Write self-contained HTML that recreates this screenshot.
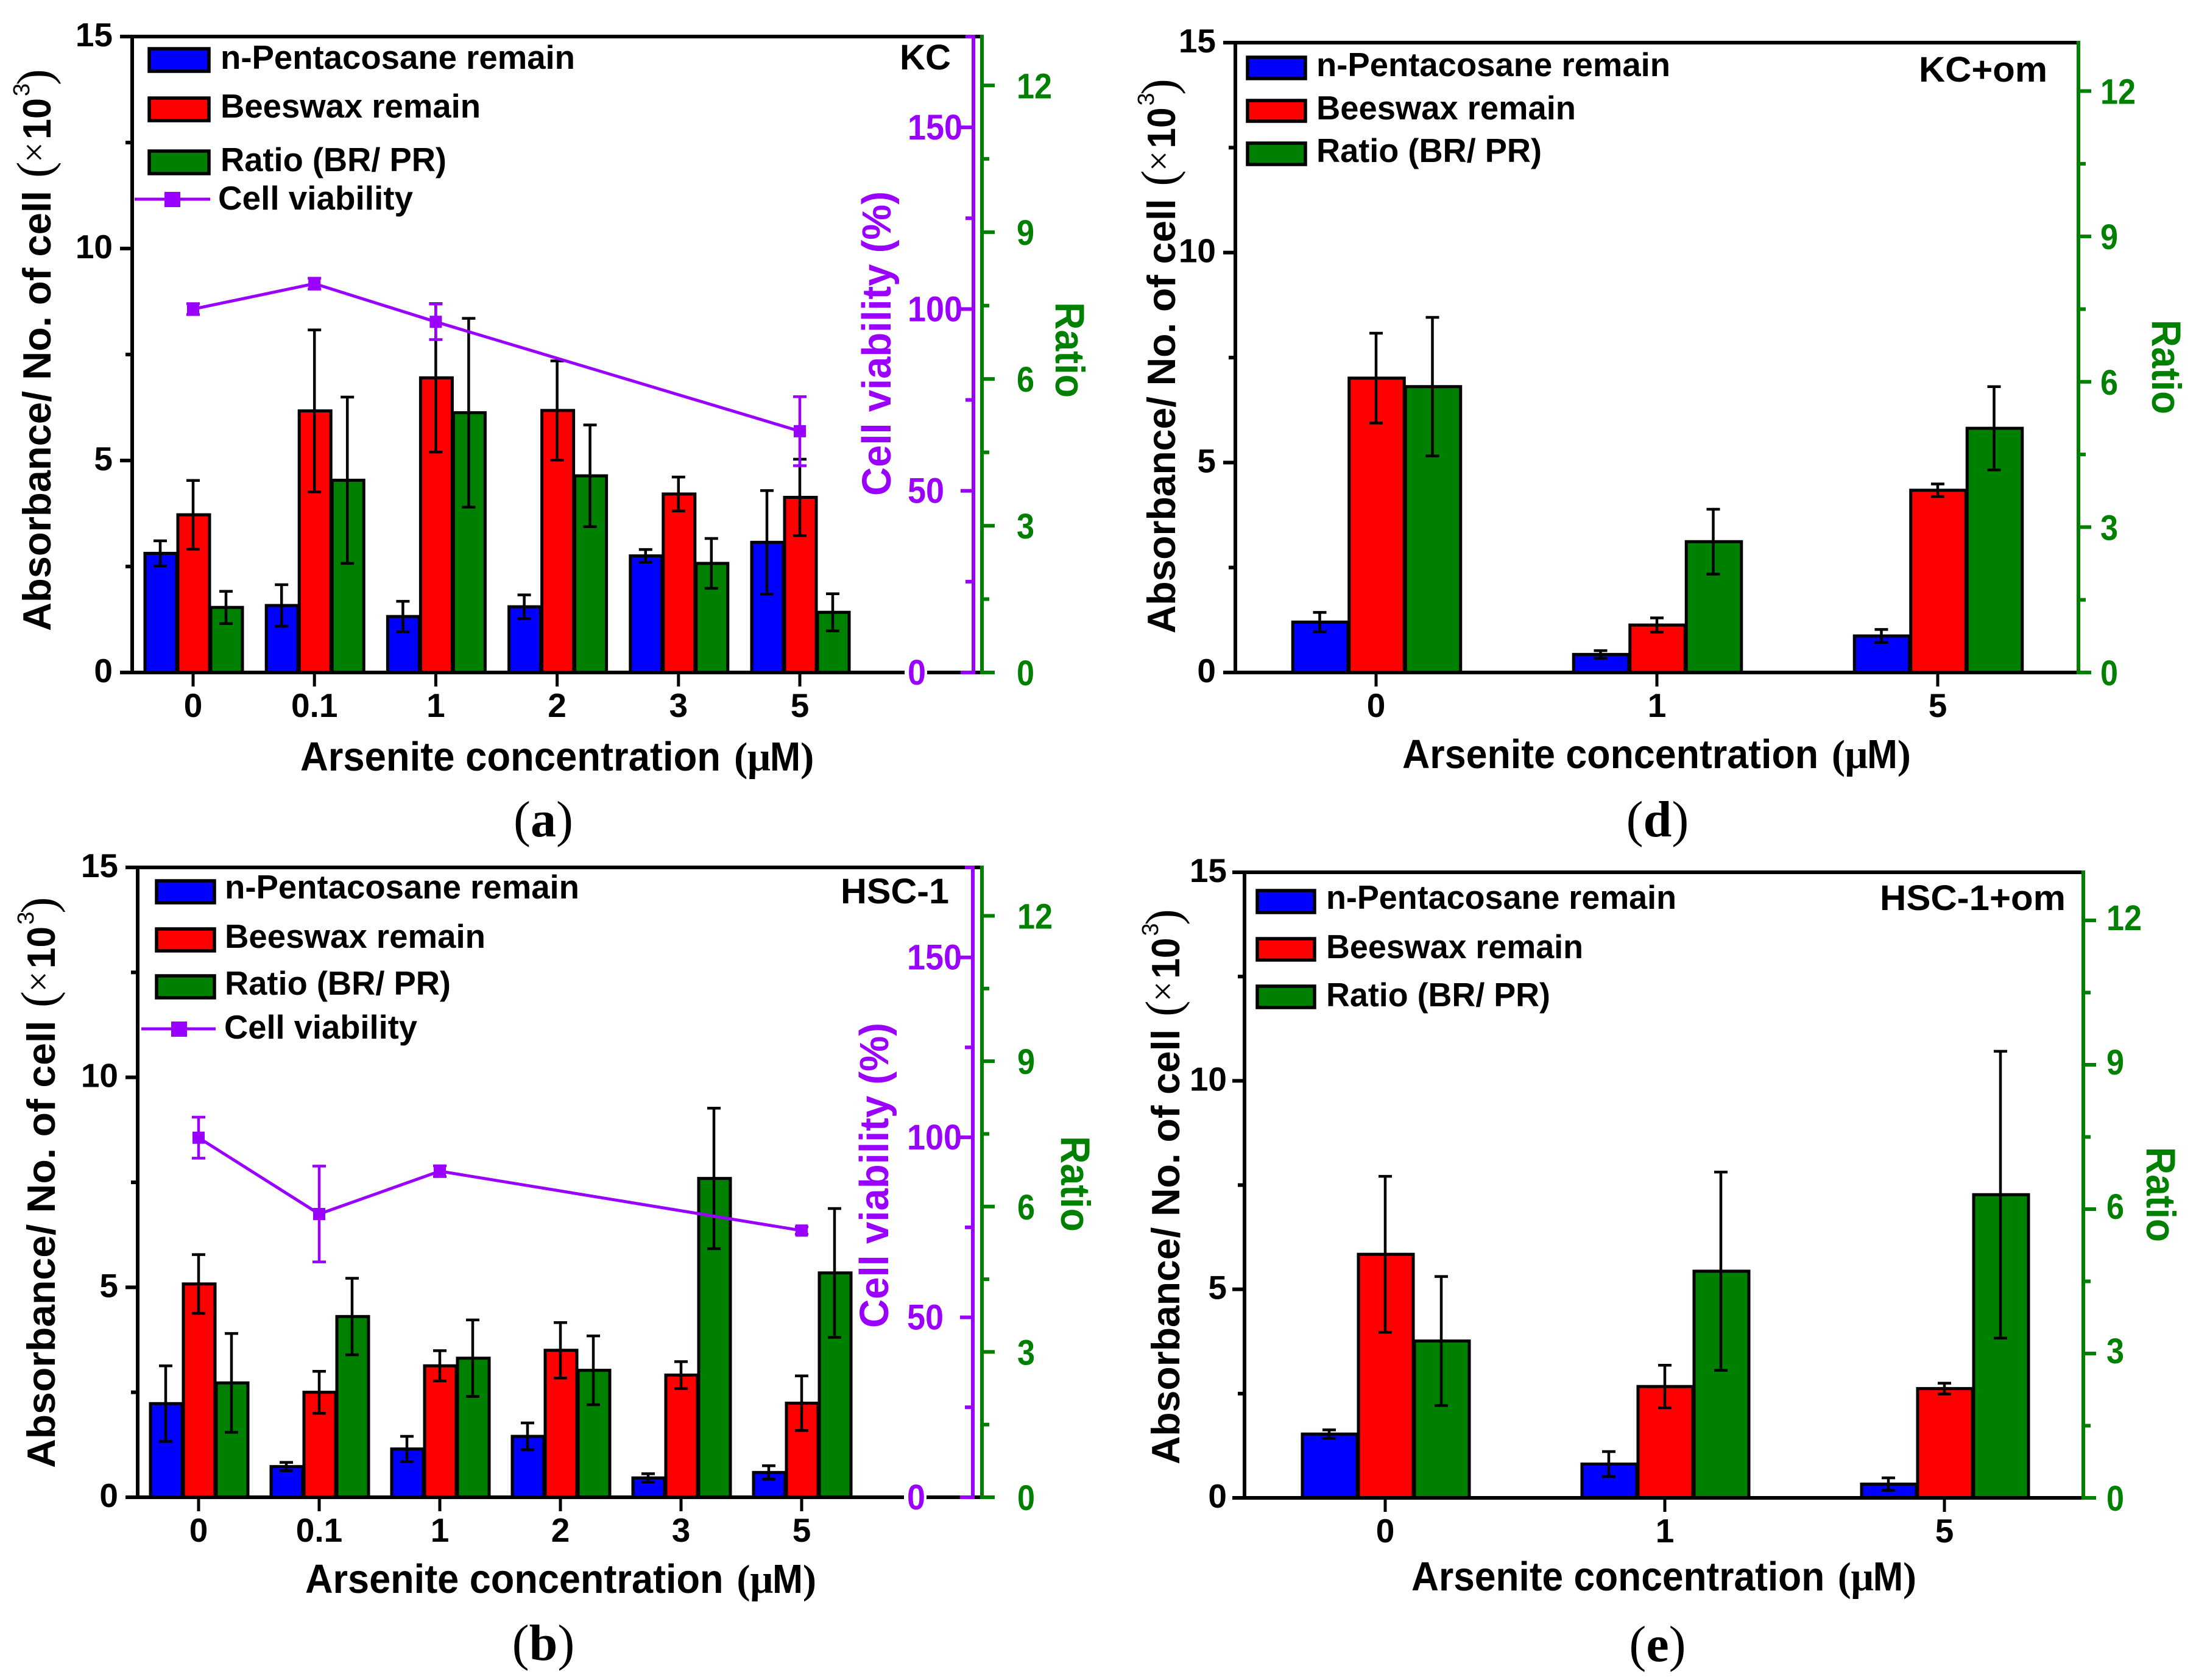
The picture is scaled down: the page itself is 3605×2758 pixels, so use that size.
<!DOCTYPE html>
<html lang="en">
<head>
<meta charset="utf-8">
<title>Absorbance and cell viability charts</title>
<style>
html,body{margin:0;padding:0;background:#fff}
svg{display:block}
text{font-family:"Liberation Sans",Arial,sans-serif;font-weight:bold;fill:#000}
.leg{font-size:55px}
.tag{font-size:58px;font-weight:bold}
.xt{font-size:67px}
.yt{font-size:65px}
.vt{font-size:67px}
.rt{font-size:68px}
.ser{font-family:"Liberation Serif",serif;font-weight:normal}
.serb{font-family:"Liberation Serif",serif;font-weight:bold;font-size:67px}
.cap{font-family:"Liberation Serif",serif;font-size:84px;font-weight:normal}
.cap tspan.b{font-weight:bold}
.pu{fill:#9900ff}
.gr{fill:#008000}
.sw{stroke:#000;stroke-width:5.5}
</style>
</head>
<body>
<svg id="fig" xmlns="http://www.w3.org/2000/svg" width="3605" height="2758" viewBox="0 0 3605 2758">
<rect width="3605" height="2758" fill="#fff"/>

<!-- Panel a static text -->
<g>
  <g>
    <rect class="sw" x="245" y="80" width="98" height="37" fill="#0000ff"/>
    <text class="leg" x="362" y="113" textLength="582" lengthAdjust="spacingAndGlyphs">n-Pentacosane remain</text>
    <rect class="sw" x="245" y="161" width="98" height="37" fill="#ff0000"/>
    <text class="leg" x="362" y="193" textLength="427" lengthAdjust="spacingAndGlyphs">Beeswax remain</text>
    <rect class="sw" x="245" y="248" width="98" height="37" fill="#008000"/>
    <text class="leg" x="362" y="281" textLength="371" lengthAdjust="spacingAndGlyphs">Ratio (BR/ PR)</text>
    <line x1="221" x2="345" y1="327" y2="327" stroke="#9900ff" stroke-width="5"/>
    <rect x="270" y="315" width="26" height="25" fill="#9900ff"/>
    <text class="leg" x="358" y="344" textLength="320" lengthAdjust="spacingAndGlyphs">Cell viability</text>
  </g>
  <text class="tag" x="1477" y="114" textLength="84" lengthAdjust="spacingAndGlyphs">KC</text>
  <g transform="translate(493,1265)">
    <text class="xt" x="0" y="0" textLength="690" lengthAdjust="spacingAndGlyphs">Arsenite concentration</text>
    <text class="serb" x="712" y="0">(</text>
    <text class="serb" x="734" y="0">μ</text>
    <text class="xt" x="771" y="0" textLength="50" lengthAdjust="spacingAndGlyphs">M</text>
    <text class="serb" x="821" y="0">)</text>
  </g>
  <g transform="translate(83,1036) rotate(-90)">
    <text class="yt" x="0" y="0" textLength="723" lengthAdjust="spacingAndGlyphs">Absorbance/ No. of cell</text>
    <text class="yt ser" x="744" y="0" style="font-size:80px">(</text>
    <text class="yt ser" x="769" y="-7" style="font-size:60px">×</text>
    <text class="yt" x="807" y="0" textLength="68" lengthAdjust="spacingAndGlyphs">10</text>
    <text x="878" y="-35" style="font-size:38px;font-weight:normal">3</text>
    <text class="yt ser" x="896" y="0" style="font-size:80px">)</text>
  </g>
  <text class="vt pu" transform="translate(1462,814) rotate(-90)" textLength="500" lengthAdjust="spacingAndGlyphs">Cell viability (%)</text>
  <text class="rt gr" transform="translate(1733,496) rotate(90)" textLength="157" lengthAdjust="spacingAndGlyphs">Ratio</text>
  <text class="cap" x="892" y="1373" text-anchor="middle">(<tspan class="b">a</tspan>)</text>
</g>

<!-- Panel d static text -->
<g>
  <g>
    <rect class="sw" x="2048" y="94" width="95" height="35" fill="#0000ff"/>
    <text class="leg" x="2161" y="125" textLength="581" lengthAdjust="spacingAndGlyphs">n-Pentacosane remain</text>
    <rect class="sw" x="2048" y="165" width="95" height="34" fill="#ff0000"/>
    <text class="leg" x="2161" y="196" textLength="426" lengthAdjust="spacingAndGlyphs">Beeswax remain</text>
    <rect class="sw" x="2048" y="235" width="95" height="35" fill="#008000"/>
    <text class="leg" x="2161" y="266" textLength="370" lengthAdjust="spacingAndGlyphs">Ratio (BR/ PR)</text>
  </g>
  <text class="tag" x="3150" y="134" textLength="211" lengthAdjust="spacingAndGlyphs">KC+om</text>
  <g transform="translate(2302,1261) scale(0.99,1)">
    <text class="xt" x="0" y="0" textLength="690" lengthAdjust="spacingAndGlyphs">Arsenite concentration</text>
    <text class="serb" x="712" y="0">(</text>
    <text class="serb" x="734" y="0">μ</text>
    <text class="xt" x="771" y="0" textLength="50" lengthAdjust="spacingAndGlyphs">M</text>
    <text class="serb" x="821" y="0">)</text>
  </g>
  <g transform="translate(1929,1040) rotate(-90) scale(0.987,1)">
    <text class="yt" x="0" y="0" textLength="723" lengthAdjust="spacingAndGlyphs">Absorbance/ No. of cell</text>
    <text class="yt ser" x="744" y="0" style="font-size:80px">(</text>
    <text class="yt ser" x="769" y="-7" style="font-size:60px">×</text>
    <text class="yt" x="807" y="0" textLength="68" lengthAdjust="spacingAndGlyphs">10</text>
    <text x="878" y="-35" style="font-size:38px;font-weight:normal">3</text>
    <text class="yt ser" x="896" y="0" style="font-size:80px">)</text>
  </g>
  <text class="rt gr" transform="translate(3533,525) rotate(90)" textLength="155" lengthAdjust="spacingAndGlyphs">Ratio</text>
  <text class="cap" x="2721" y="1373" text-anchor="middle">(<tspan class="b">d</tspan>)</text>
</g>

<!-- Panel b static text -->
<g>
  <g>
    <rect class="sw" x="257" y="1446" width="95" height="36" fill="#0000ff"/>
    <text class="leg" x="369" y="1475" textLength="582" lengthAdjust="spacingAndGlyphs">n-Pentacosane remain</text>
    <rect class="sw" x="257" y="1525" width="95" height="36" fill="#ff0000"/>
    <text class="leg" x="369" y="1556" textLength="428" lengthAdjust="spacingAndGlyphs">Beeswax remain</text>
    <rect class="sw" x="257" y="1602" width="95" height="36" fill="#008000"/>
    <text class="leg" x="369" y="1633" textLength="371" lengthAdjust="spacingAndGlyphs">Ratio (BR/ PR)</text>
    <line x1="232" x2="354" y1="1689" y2="1689" stroke="#9900ff" stroke-width="5"/>
    <rect x="281" y="1677" width="26" height="25" fill="#9900ff"/>
    <text class="leg" x="368" y="1705" textLength="317" lengthAdjust="spacingAndGlyphs">Cell viability</text>
  </g>
  <text class="tag" x="1380" y="1483" textLength="178" lengthAdjust="spacingAndGlyphs">HSC-1</text>
  <g transform="translate(501,2615) scale(0.995,1)">
    <text class="xt" x="0" y="0" textLength="690" lengthAdjust="spacingAndGlyphs">Arsenite concentration</text>
    <text class="serb" x="712" y="0">(</text>
    <text class="serb" x="734" y="0">μ</text>
    <text class="xt" x="771" y="0" textLength="50" lengthAdjust="spacingAndGlyphs">M</text>
    <text class="serb" x="821" y="0">)</text>
  </g>
  <g transform="translate(90,2410) rotate(-90) scale(1.016,1)">
    <text class="yt" x="0" y="0" textLength="723" lengthAdjust="spacingAndGlyphs">Absorbance/ No. of cell</text>
    <text class="yt ser" x="744" y="0" style="font-size:80px">(</text>
    <text class="yt ser" x="769" y="-7" style="font-size:60px">×</text>
    <text class="yt" x="807" y="0" textLength="68" lengthAdjust="spacingAndGlyphs">10</text>
    <text x="878" y="-35" style="font-size:38px;font-weight:normal">3</text>
    <text class="yt ser" x="896" y="0" style="font-size:80px">)</text>
  </g>
  <text class="vt pu" transform="translate(1458,2180) rotate(-90)" textLength="501" lengthAdjust="spacingAndGlyphs">Cell viability (%)</text>
  <text class="rt gr" transform="translate(1742,1865) rotate(90)" textLength="157" lengthAdjust="spacingAndGlyphs">Ratio</text>
  <text class="cap" x="892" y="2725" text-anchor="middle">(<tspan class="b">b</tspan>)</text>
</g>

<!-- Panel e static text -->
<g>
  <g>
    <rect class="sw" x="2064" y="1462" width="94" height="36" fill="#0000ff"/>
    <text class="leg" x="2177" y="1492" textLength="575" lengthAdjust="spacingAndGlyphs">n-Pentacosane remain</text>
    <rect class="sw" x="2064" y="1541" width="94" height="35" fill="#ff0000"/>
    <text class="leg" x="2177" y="1573" textLength="422" lengthAdjust="spacingAndGlyphs">Beeswax remain</text>
    <rect class="sw" x="2064" y="1619" width="94" height="35" fill="#008000"/>
    <text class="leg" x="2177" y="1652" textLength="368" lengthAdjust="spacingAndGlyphs">Ratio (BR/ PR)</text>
  </g>
  <text class="tag" x="3086" y="1494" textLength="305" lengthAdjust="spacingAndGlyphs">HSC-1+om</text>
  <g transform="translate(2317,2611) scale(0.983,1)">
    <text class="xt" x="0" y="0" textLength="690" lengthAdjust="spacingAndGlyphs">Arsenite concentration</text>
    <text class="serb" x="712" y="0">(</text>
    <text class="serb" x="734" y="0">μ</text>
    <text class="xt" x="771" y="0" textLength="50" lengthAdjust="spacingAndGlyphs">M</text>
    <text class="serb" x="821" y="0">)</text>
  </g>
  <g transform="translate(1936,2404) rotate(-90) scale(0.988,1)">
    <text class="yt" x="0" y="0" textLength="723" lengthAdjust="spacingAndGlyphs">Absorbance/ No. of cell</text>
    <text class="yt ser" x="744" y="0" style="font-size:80px">(</text>
    <text class="yt ser" x="769" y="-7" style="font-size:60px">×</text>
    <text class="yt" x="807" y="0" textLength="68" lengthAdjust="spacingAndGlyphs">10</text>
    <text x="878" y="-35" style="font-size:38px;font-weight:normal">3</text>
    <text class="yt ser" x="896" y="0" style="font-size:80px">)</text>
  </g>
  <text class="rt gr" transform="translate(3524,1883) rotate(90)" textLength="156" lengthAdjust="spacingAndGlyphs">Ratio</text>
  <text class="cap" x="2721" y="2727" text-anchor="middle">(<tspan class="b">e</tspan>)</text>
</g>
</svg>

<script>
// ---- tick label data ----
const leftTicks = [0, 5, 10, 15];
const leftMinorTicks = [2.5, 7.5, 12.5];
const ratioTicks = [0, 3, 6, 9, 12];
const ratioMinorTicks = [1.5, 4.5, 7.5, 10.5];
const viabilityTicks = [0, 50, 100, 150];
const viabilityMinorTicks = [25, 75, 125, 175];

// ---- panel a (KC) ----
const aCategories = ['0', '0.1', '1', '2', '3', '5'];
const aPentacosane = [2.81, 1.58, 1.32, 1.55, 2.75, 3.07];
const aPentacosaneErr = [0.295, 0.49, 0.36, 0.28, 0.15, 1.22];
const aBeeswax = [3.72, 6.17, 6.95, 6.18, 4.21, 4.13];
const aBeeswaxErr = [0.81, 1.91, 1.75, 1.17, 0.40, 0.90];
const aRatio = [1.33, 3.93, 5.31, 4.02, 2.23, 1.23];
const aRatioErr = [0.33, 1.70, 1.93, 1.04, 0.51, 0.38];
const aViabilityCategories = [0, 1, 2, 5];
const aViability = [100, 107, 96.5, 66.4];
const aViabilityErr = [1.5, 1.5, 4.9, 9.5];

// ---- panel d (KC+om) ----
const dCategories = ['0', '1', '5'];
const dPentacosane = [1.20, 0.43, 0.87];
const dPentacosaneErr = [0.23, 0.09, 0.155];
const dBeeswax = [7.01, 1.13, 4.34];
const dBeeswaxErr = [1.07, 0.17, 0.15];
const dRatio = [5.90, 2.70, 5.04];
const dRatioErr = [1.43, 0.67, 0.86];

// ---- panel b (HSC-1) ----
const bCategories = ['0', '0.1', '1', '2', '3', '5'];
const bPentacosane = [2.23, 0.73, 1.15, 1.45, 0.46, 0.59];
const bPentacosaneErr = [0.90, 0.10, 0.30, 0.32, 0.10, 0.16];
const bBeeswax = [5.08, 2.50, 3.13, 3.50, 2.91, 2.24];
const bBeeswaxErr = [0.70, 0.50, 0.36, 0.66, 0.32, 0.65];
const bRatio = [2.36, 3.73, 2.87, 2.62, 6.58, 4.63];
const bRatioErr = [1.02, 0.79, 0.79, 0.71, 1.45, 1.33];
const bViabilityCategories = [0, 1, 2, 5];
const bViability = [99.9, 78.7, 90.6, 74.1];
const bViabilityErr = [5.7, 13.3, 1.5, 1];

// ---- panel e (HSC-1+om) ----
const eCategories = ['0', '1', '5'];
const ePentacosane = [1.53, 0.81, 0.33];
const ePentacosaneErr = [0.10, 0.30, 0.15];
const eBeeswax = [5.84, 2.67, 2.62];
const eBeeswaxErr = [1.87, 0.51, 0.13];
const eRatio = [3.26, 4.71, 6.30];
const eRatioErr = [1.34, 2.06, 2.98];

const NS = 'http://www.w3.org/2000/svg';
const fig = document.getElementById('fig');
const PURPLE = '#9900ff', GREEN = '#008000';

function make(parent, tag, attrs, txt) {
  const el = document.createElementNS(NS, tag);
  for (const k in attrs) el.setAttribute(k, attrs[k]);
  if (txt !== undefined) el.textContent = txt;
  parent.appendChild(el);
  return el;
}

function drawErr(g, x, yHi, yLo, color, w, name) {
  const stem = make(g, 'line', {x1: x, x2: x, y1: yHi, y2: yLo, stroke: color, 'stroke-width': 4.5});
  
  
  for (const y of [yHi, yLo]) {
    const cap = make(g, 'line', {x1: x - w / 2, x2: x + w / 2, y1: y, y2: y, stroke: color, 'stroke-width': 4.5});
    
    
  }
}

function drawPanel(p) {
  const g = make(fig, 'g', {});
  
  

  const h = p.bottom - p.top;
  const yLeft = v => p.bottom - v / 15 * h;
  const yRatio = v => p.bottom - v / 13 * h;
  const yView = v => p.bottom - v / 175 * h;
  const xCat = i => p.x0 + i * p.dx;

  // bars
  const series = [
    {name: 'pentacosane', vals: p.pent, errs: p.pentErr, color: '#0000ff', off: -1, y: yLeft},
    {name: 'beeswax', vals: p.bees, errs: p.beesErr, color: '#ff0000', off: 0, y: yLeft},
    {name: 'ratio', vals: p.ratio, errs: p.ratioErr, color: GREEN, off: 1, y: yRatio}
  ];
  for (const s of series) {
    s.vals.forEach((v, i) => {
      const cx = xCat(i) + s.off * p.barW;
      const bar = make(g, 'rect', {x: cx - p.barW / 2 + 2, y: s.y(v), width: p.barW - 2, height: p.bottom - s.y(v), fill: s.color, stroke: '#000', 'stroke-width': 5});
      
      
    });
  }
  for (const s of series) {
    s.vals.forEach((v, i) => {
      const cx = xCat(i) + s.off * p.barW;
      drawErr(g, cx, s.y(v + s.errs[i]), s.y(v - s.errs[i]), '#000', 22, 'error-bar-' + s.name + '-' + p.categories[i]);
    });
  }

  // frame
  const topSpine = make(g, 'line', {x1: p.left - 20, x2: p.right, y1: p.top, y2: p.top, stroke: '#000', 'stroke-width': 6});
  
  
  const bottomSpine = make(g, 'line', {x1: p.left - 20, x2: p.right, y1: p.bottom, y2: p.bottom, stroke: '#000', 'stroke-width': 6});
  
  
  const leftSpine = make(g, 'line', {x1: p.left, x2: p.left, y1: p.top - 3, y2: p.bottom + 3, stroke: '#000', 'stroke-width': 6});
  
  

  // x ticks
  p.categories.forEach((c, i) => {
    const t = make(g, 'line', {x1: xCat(i), x2: xCat(i), y1: p.bottom, y2: p.bottom + 23, stroke: '#000', 'stroke-width': 5});
    
    
    const l = make(g, 'text', {x: xCat(i), y: p.bottom + 73, 'text-anchor': 'middle', style: 'font-size:55px'}, c);
    
    
  });

  // left axis ticks
  for (const v of leftTicks) {
    const t = make(g, 'line', {x1: p.left - 20, x2: p.left, y1: yLeft(v), y2: yLeft(v), stroke: '#000', 'stroke-width': 6});
    
    
    const l = make(g, 'text', {x: p.left - p.labelGap, y: yLeft(v) + 16, 'text-anchor': 'end', style: 'font-size:55px'}, String(v));
    
    
  }
  for (const v of leftMinorTicks) {
    const t = make(g, 'line', {x1: p.left - 11, x2: p.left, y1: yLeft(v), y2: yLeft(v), stroke: '#000', 'stroke-width': 6});
    
    
  }

  // viability axis
  if (p.viab) {
    const mask = make(g, 'rect', {x: p.viabLabelX - 5, y: p.bottom - 12, width: 37, height: 24, fill: '#fff'});
    
    
    const pAxis = make(g, 'line', {x1: p.viabX, x2: p.viabX, y1: p.top - 3, y2: p.bottom + 3, stroke: PURPLE, 'stroke-width': 6});
    
    
    for (const v of viabilityTicks) {
      const t = make(g, 'line', {x1: p.viabX - 21, x2: p.viabX, y1: yView(v), y2: yView(v), stroke: PURPLE, 'stroke-width': 6});
      
      
      const s = String(v);
      const l = make(g, 'text', {x: p.viabLabelX, y: yView(v) + 20, class: 'pu', style: 'font-size:58px', textLength: s.length * 30, lengthAdjust: 'spacingAndGlyphs'}, s);
      
      
    }
    for (const v of viabilityMinorTicks) {
      const t = make(g, 'line', {x1: p.viabX - 13, x2: p.viabX, y1: yView(v), y2: yView(v), stroke: PURPLE, 'stroke-width': 6});
      
      
    }
  }

  // ratio axis
  const rAxis = make(g, 'line', {x1: p.right, x2: p.right, y1: p.top - 3, y2: p.bottom + 3, stroke: GREEN, 'stroke-width': 6});
  
  
  for (const v of ratioTicks) {
    const t = make(g, 'line', {x1: p.right, x2: p.right + 21, y1: yRatio(v), y2: yRatio(v), stroke: GREEN, 'stroke-width': 6});
    
    
    const s = String(v);
    const l = make(g, 'text', {x: p.ratioLabelX, y: yRatio(v) + (v === 0 ? 21 : p.ratioDy), class: 'gr', style: 'font-size:58px', textLength: s.length * 29, lengthAdjust: 'spacingAndGlyphs'}, s);
    
    
  }
  for (const v of ratioMinorTicks) {
    const t = make(g, 'line', {x1: p.right, x2: p.right + 12, y1: yRatio(v), y2: yRatio(v), stroke: GREEN, 'stroke-width': 6});
    
    
  }

  // viability series
  if (p.viab) {
    const pts = p.viab.map((v, k) => xCat(p.viabCats[k]) + ',' + yView(v)).join(' ');
    const line = make(g, 'polyline', {points: pts, fill: 'none', stroke: PURPLE, 'stroke-width': 5});
    
    
    p.viab.forEach((v, k) => {
      const x = xCat(p.viabCats[k]);
      drawErr(g, x, yView(v + p.viabErr[k]), yView(v - p.viabErr[k]), PURPLE, 22, 'viability-error-bar');
      const m = make(g, 'rect', {x: x - 10, y: yView(v) - 10, width: 20, height: 20, fill: PURPLE});
      
      
    });
  }
}

drawPanel({id: 'a', left: 217, right: 1612, top: 60, bottom: 1104, x0: 317, dx: 199.2, barW: 54, viabX: 1598, viabLabelX: 1490, ratioLabelX: 1669, labelGap: 32, ratioDy: 21,
  categories: aCategories, pent: aPentacosane, pentErr: aPentacosaneErr, bees: aBeeswax, beesErr: aBeeswaxErr, ratio: aRatio, ratioErr: aRatioErr,
  viab: aViability, viabErr: aViabilityErr, viabCats: aViabilityCategories});
drawPanel({id: 'd', left: 2028, right: 3412, top: 70, bottom: 1104, x0: 2259, dx: 461, barW: 92.5, ratioLabelX: 3448, labelGap: 32, ratioDy: 21,
  categories: dCategories, pent: dPentacosane, pentErr: dPentacosaneErr, bees: dBeeswax, beesErr: dBeeswaxErr, ratio: dRatio, ratioErr: dRatioErr});
drawPanel({id: 'b', left: 226, right: 1612, top: 1424, bottom: 2458, x0: 326, dx: 198, barW: 54, viabX: 1597, viabLabelX: 1489, ratioLabelX: 1670, labelGap: 32, ratioDy: 21,
  categories: bCategories, pent: bPentacosane, pentErr: bPentacosaneErr, bees: bBeeswax, beesErr: bBeeswaxErr, ratio: bRatio, ratioErr: bRatioErr,
  viab: bViability, viabErr: bViabilityErr, viabCats: bViabilityCategories});
drawPanel({id: 'e', left: 2043, right: 3420, top: 1432, bottom: 2459, x0: 2274, dx: 459, barW: 92, ratioLabelX: 3458, labelGap: 29, ratioDy: 16,
  categories: eCategories, pent: ePentacosane, pentErr: ePentacosaneErr, bees: eBeeswax, beesErr: eBeeswaxErr, ratio: eRatio, ratioErr: eRatioErr});
</script>
</body>
</html>
